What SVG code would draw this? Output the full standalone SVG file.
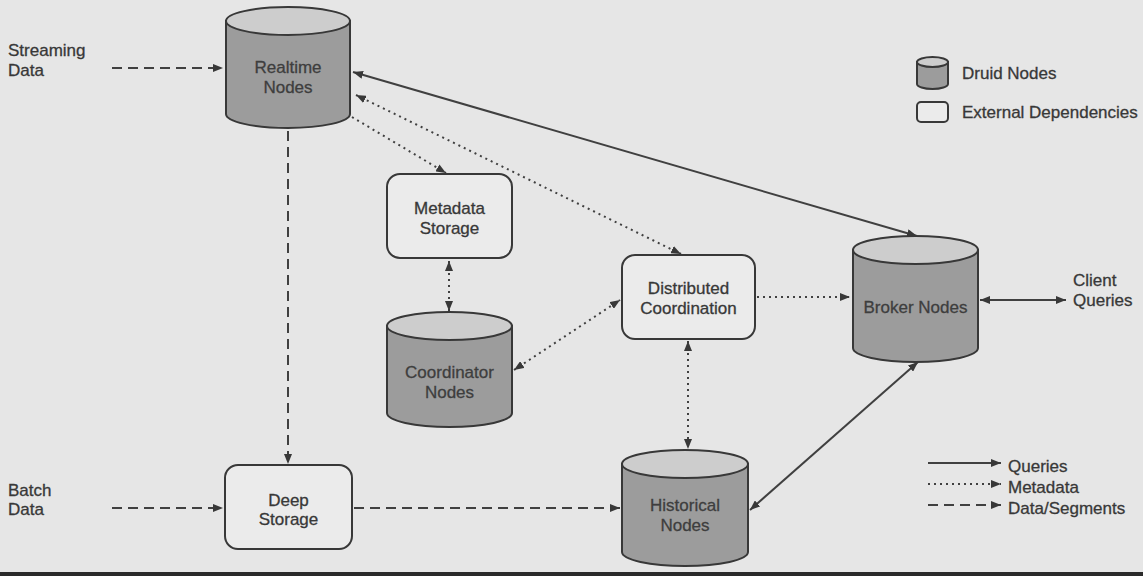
<svg xmlns="http://www.w3.org/2000/svg" width="1143" height="576" viewBox="0 0 1143 576">
<defs>
<style>
text{font-family:"Liberation Sans",Arial,sans-serif;font-size:17px;fill:#383838;stroke:#383838;stroke-width:0.3}
.c{text-anchor:middle}
.cy text{fill:#3e3e3e;stroke:#3e3e3e}
.body{fill:#9c9c9c;stroke:#383838;stroke-width:2}
.top{fill:#cdcdcd;stroke:#383838;stroke-width:2}
.box{fill:#ebebeb;stroke:#383838;stroke-width:2}
.ln{fill:none;stroke:#404040;stroke-width:2}
.solid{}
.dot{stroke-dasharray:2 4}
.dash{stroke-dasharray:10 6}
</style>
<marker id="ah" viewBox="0 0 10 8" refX="10" refY="4" markerWidth="10" markerHeight="8" markerUnits="userSpaceOnUse" orient="auto-start-reverse">
<path d="M0,0 L10,4 L0,8 z" fill="#383838"/>
</marker>
</defs>
<rect x="0" y="0" width="1143" height="576" fill="#e6e6e6"/>
<rect x="0" y="572" width="1143" height="4" fill="#2a2a2a"/>

<g id="connectors">
<path class="ln dash" d="M112,68 H223" marker-end="url(#ah)"/>
<path class="ln dash" d="M288,131 V464" marker-end="url(#ah)"/>
<path class="ln dash" d="M112,508 H223" marker-end="url(#ah)"/>
<path class="ln dash" d="M354,508 H620" marker-end="url(#ah)"/>
<path class="ln solid" d="M353,72 L917,236" marker-start="url(#ah)" marker-end="url(#ah)"/>
<path class="ln dot" d="M352,117 L446,173" marker-end="url(#ah)"/>
<path class="ln dot" d="M356,95 L681,254" marker-start="url(#ah)" marker-end="url(#ah)"/>
<path class="ln dot" d="M449,261 V311" marker-start="url(#ah)" marker-end="url(#ah)"/>
<path class="ln dot" d="M514,370 L620,300" marker-start="url(#ah)" marker-end="url(#ah)"/>
<path class="ln dot" d="M757,297 H850" marker-end="url(#ah)"/>
<path class="ln solid" d="M980,300 H1066" marker-start="url(#ah)" marker-end="url(#ah)"/>
<path class="ln dot" d="M688,341 V449" marker-start="url(#ah)" marker-end="url(#ah)"/>
<path class="ln solid" d="M750,510 L918,362" marker-start="url(#ah)" marker-end="url(#ah)"/>
</g>

<g id="streaming-data">
<text x="8" y="56">Streaming</text>
<text x="8" y="76">Data</text>
</g>
<g id="batch-data">
<text x="8" y="496">Batch</text>
<text x="8" y="515">Data</text>
</g>
<g id="client-queries">
<text x="1073" y="286">Client</text>
<text x="1073" y="306">Queries</text>
</g>

<g id="realtime-nodes" class="cy">
<path class="body" d="M226,21 V114 A62,14 0 0 0 350,114 V21 Z"/>
<ellipse class="top" cx="288" cy="21" rx="62" ry="14"/>
<text class="c" x="288" y="73">Realtime</text>
<text class="c" x="288" y="93">Nodes</text>
</g>

<g id="metadata-storage">
<rect class="box" x="387" y="174" width="125" height="84" rx="13"/>
<text class="c" x="449.5" y="214">Metadata</text>
<text class="c" x="449.5" y="234">Storage</text>
</g>

<g id="coordinator-nodes" class="cy">
<path class="body" d="M387,326 V413 A62.5,14 0 0 0 512,413 V326 Z"/>
<ellipse class="top" cx="449.5" cy="326" rx="62.5" ry="14"/>
<text class="c" x="449.5" y="378">Coordinator</text>
<text class="c" x="449.5" y="398">Nodes</text>
</g>

<g id="distributed-coordination">
<rect class="box" x="622" y="255" width="133" height="84" rx="13"/>
<text class="c" x="688.5" y="294">Distributed</text>
<text class="c" x="688.5" y="314">Coordination</text>
</g>

<g id="broker-nodes" class="cy">
<path class="body" d="M853,250 V348 A62.5,14 0 0 0 978,348 V250 Z"/>
<ellipse class="top" cx="915.5" cy="250" rx="62.5" ry="14"/>
<text class="c" x="915.5" y="313">Broker Nodes</text>
</g>

<g id="deep-storage">
<rect class="box" x="225" y="465" width="127" height="84" rx="13"/>
<text class="c" x="288.5" y="506">Deep</text>
<text class="c" x="288.5" y="525">Storage</text>
</g>

<g id="historical-nodes" class="cy">
<path class="body" d="M622,464 V552 A63,14 0 0 0 748,552 V464 Z"/>
<ellipse class="top" cx="685" cy="464" rx="63" ry="14"/>
<text class="c" x="685" y="511">Historical</text>
<text class="c" x="685" y="531">Nodes</text>
</g>

<g id="legend">
<path class="body" d="M917,62 V84 A15.5,5 0 0 0 948,84 V62 Z"/>
<ellipse class="top" cx="932.5" cy="62" rx="15.5" ry="5"/>
<text x="962" y="79">Druid Nodes</text>
<rect class="box" x="917" y="102" width="31" height="20" rx="4"/>
<text x="962" y="118">External Dependencies</text>
<path class="ln solid" d="M928,463 H1001" marker-end="url(#ah)"/>
<text x="1008" y="472">Queries</text>
<path class="ln dot" d="M928,484 H1001" marker-end="url(#ah)"/>
<text x="1008" y="493">Metadata</text>
<path class="ln dash" d="M928,505 H1001" marker-end="url(#ah)"/>
<text x="1008" y="514">Data/Segments</text>
</g>
</svg>
